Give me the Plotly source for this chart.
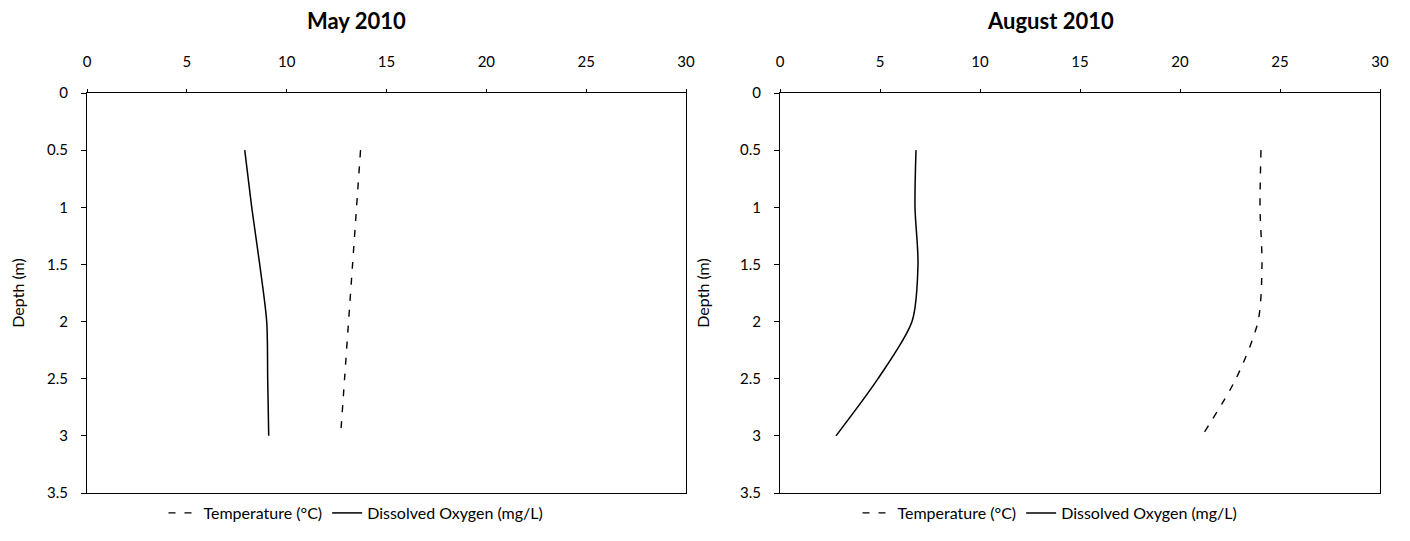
import plotly.graph_objects as go

depth = [0.5, 1.0, 1.5, 2.0, 2.5, 3.0]
may_temp = [13.7, 13.5, 13.3, 13.1, 12.9, 12.7]
may_do = [7.9, 8.25, 8.65, 9.0, 9.05, 9.1]
aug_temp = [24.05, 24.0, 24.1, 23.9, 22.8, 21.1]
aug_do = [6.8, 6.75, 6.9, 6.6, 4.9, 2.8]
titles = ["May 2010", "August 2010"]
x_ticks = [0, 5, 10, 15, 20, 25, 30]
y_ticks = [0, 0.5, 1, 1.5, 2, 2.5, 3, 3.5]

FONT = "Lato"
W, H = 1410, 541
OFF = 8  # default body margin of the html page
fig = go.Figure()

panels = [(may_temp, may_do, "x", "y", "legend"), (aug_temp, aug_do, "x2", "y2", "legend2")]
for temp, do, xa, ya, lg in panels:
    fig.add_trace(go.Scatter(x=temp, y=depth, mode="lines", name="Temperature (°C)",
                             line=dict(color="black", width=1.4, dash="7px,9px", shape="spline", smoothing=0.8),
                             xaxis=xa, yaxis=ya, legend=lg))
    fig.add_trace(go.Scatter(x=do, y=depth, mode="lines", name="Dissolved Oxygen (mg/L)",
                             line=dict(color="black", width=1.5, shape="spline", smoothing=0.8),
                             xaxis=xa, yaxis=ya, legend=lg))

px = [(87 - OFF, 686 - OFF), (780 - OFF, 1380 - OFF)]
ytop, ybot = 93 - OFF, 493 - OFF
ydom = [(H - ybot) / H, (H - ytop) / H]
chart_center = [356 - OFF, 1050 - OFF]

def xax(i):
    return dict(domain=[px[i][0] / W, px[i][1] / W], range=[0, 30], side="top",
                tickvals=x_ticks, ticks="outside", ticklen=3, tickcolor="black",
                showline=True, linecolor="black", linewidth=1.2, mirror=True,
                showgrid=False, zeroline=False, ticklabelstandoff=16,
                tickfont=dict(family=FONT, size=15, color="black"),
                anchor="y" if i == 0 else "y2")

def yax(i):
    return dict(domain=ydom, range=[3.5, 0], tickvals=y_ticks,
                ticks="outside", ticklen=5, tickcolor="black",
                showline=True, linecolor="black", linewidth=1.2, mirror=True,
                showgrid=False, zeroline=False, ticklabelstandoff=10,
                tickfont=dict(family=FONT, size=15, color="black"),
                title=dict(text="Depth (m)", font=dict(family=FONT, size=16, color="black"), standoff=26),
                anchor="x" if i == 0 else "x2")

annotations = []
for i, t in enumerate(titles):
    annotations.append(dict(text="<b>" + t + "</b>", x=chart_center[i] / W, y=1 - (21 - OFF) / H,
                            xref="paper", yref="paper", showarrow=False, xanchor="center", yanchor="middle",
                            font=dict(family=FONT, size=22, color="black")))

leg_common = dict(orientation="h", xanchor="center", yanchor="middle", y=1 - (513 - OFF) / H,
                  font=dict(family=FONT, size=16, color="black"), bgcolor="rgba(0,0,0,0)",
                  itemwidth=30, tracegroupgap=0)

fig.update_layout(
    width=W, height=H, paper_bgcolor="white", plot_bgcolor="white",
    margin=dict(l=0, r=0, t=0, b=0, autoexpand=False),
    xaxis=xax(0), xaxis2=xax(1), yaxis=yax(0), yaxis2=yax(1),
    legend=dict(x=chart_center[0] / W, **leg_common),
    legend2=dict(x=chart_center[1] / W, **leg_common),
    annotations=annotations,
    showlegend=True,
)

fig.write_html("out.html")
